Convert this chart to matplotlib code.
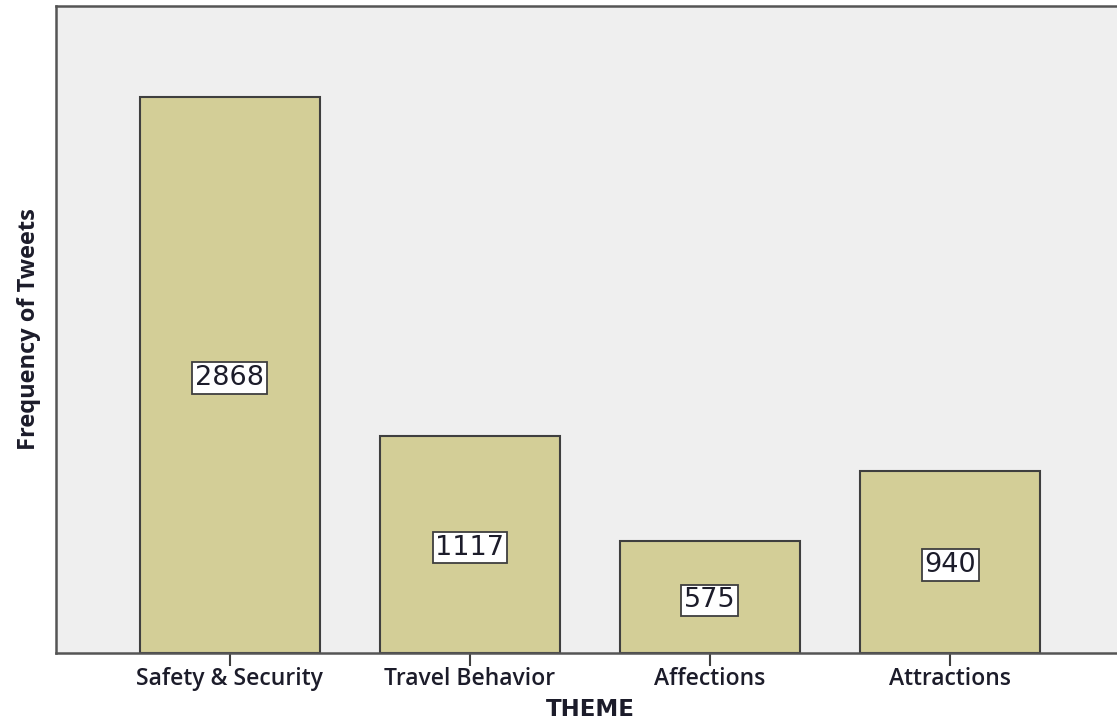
import matplotlib
matplotlib.use("Agg")
import matplotlib.pyplot as plt

# Tweet counts per theme
themes = ["Safety & Security", "Travel Behavior", "Affections", "Attractions"]
counts = [2868, 1117, 575, 940]

BG_COLOR = "#efefef"
BAR_COLOR = "#d3ce97"
EDGE_COLOR = "#3f3f3f"
SPINE_COLOR = "#555555"
TEXT_COLOR = "#1c1c2a"

fig = plt.figure(figsize=(11.17, 7.24), dpi=100)
ax = fig.add_axes([0.0501, 0.0981, 0.956, 0.8936])
ax.set_facecolor(BG_COLOR)

x = list(range(len(themes)))
bars = ax.bar(x, counts, width=0.75, color=BAR_COLOR, edgecolor=EDGE_COLOR,
              linewidth=1.5, zorder=2)

# value labels in white boxes at the middle of each bar
for rect, val in zip(bars, counts):
    ax.text(rect.get_x() + rect.get_width() / 2, val / 2, str(val),
            ha="center", va="center_baseline", fontsize=19.5, color=TEXT_COLOR,
            family="DejaVu Sans", zorder=3,
            bbox=dict(boxstyle="square,pad=0.1", facecolor="white",
                      edgecolor=EDGE_COLOR, linewidth=1.3))

ax.set_xlim(-0.723, len(themes) - 1 + 0.723)
ax.set_ylim(0, 3337)

ax.set_xticks(x)
ax.set_xticklabels(themes, fontsize=16.5, fontweight="semibold",
                   color=TEXT_COLOR, family="Open Sans")
ax.tick_params(axis="x", length=9, width=1.5, color=EDGE_COLOR, pad=1)
ax.set_yticks([])

ax.set_xlabel("THEME", fontsize=16.5, fontweight="bold", color=TEXT_COLOR,
              family="DejaVu Sans", labelpad=5)
ax.set_ylabel("Frequency of Tweets", fontsize=17, fontweight="bold",
              color=TEXT_COLOR, family="Open Sans", labelpad=11)

for side in ["left", "top", "bottom", "right"]:
    ax.spines[side].set_color(SPINE_COLOR)
    ax.spines[side].set_linewidth(1.8)

fig.savefig("out.png", dpi=100)
